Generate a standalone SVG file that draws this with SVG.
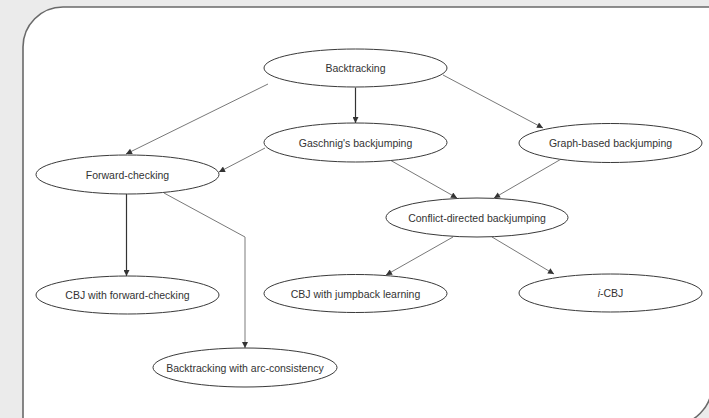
<svg xmlns="http://www.w3.org/2000/svg" width="709" height="418" viewBox="0 0 709 418">
<style>
.node ellipse{fill:#ffffff;stroke:#3a3a3a;stroke-width:1}
.node text{font-family:"Liberation Sans",Arial,sans-serif;font-size:10.5px;fill:#333333;text-anchor:middle}
.edge{fill:none;stroke:#555555;stroke-width:0.8;marker-end:url(#arr)}
.edge.v{stroke:#333333;stroke-width:1.2}
.edge.g{stroke:#9a9a9a;stroke-width:1.3}
</style>
<defs>
<marker id="arr" viewBox="0 0 10 10" markerUnits="userSpaceOnUse" markerWidth="9" markerHeight="6" refX="10" refY="5" orient="auto">
<path d="M0,0 L10,5 L0,10 z" fill="#333333"/>
</marker>
</defs>
<rect x="0" y="0" width="709" height="418" fill="#ebebeb"/>
<path d="M63 7 H712 V385 A40 40 0 0 1 672 425 H23 V47 A40 40 0 0 1 63 7 Z" fill="#ffffff" stroke="#6a6a6a" stroke-width="1.6"/>
<g id="connectors">
<path class="edge" d="M268 84 L126 154"/>
<path class="edge v" d="M355.5 87.5 L355.5 123"/>
<path class="edge" d="M443 75 L543 128"/>
<path class="edge" d="M265 148 L219 172"/>
<path class="edge" d="M390 160 L457 198"/>
<path class="edge" d="M563 158 L494 198"/>
<path class="edge v" d="M126.5 194 L126.5 276"/>
<path d="M164 193 L245 237" fill="none" stroke="#555555" stroke-width="0.8"/>
<path class="edge g" d="M245 237 L245 348"/>
<path class="edge" d="M453 237 L386 275"/>
<path class="edge" d="M492 237 L554 274"/>
</g>
<g id="n-backtracking" class="node"><ellipse cx="355.5" cy="68" rx="91.5" ry="19"/><text x="355.5" y="72">Backtracking</text></g>
<g id="n-gaschnig" class="node"><ellipse cx="355.5" cy="142.5" rx="91.5" ry="19.5"/><text x="355.5" y="146.5">Gaschnig's backjumping</text></g>
<g id="n-graph" class="node"><ellipse cx="610.5" cy="143" rx="91.5" ry="19.5"/><text x="610.5" y="147">Graph-based backjumping</text></g>
<g id="n-forward" class="node"><ellipse cx="127.5" cy="174.5" rx="91.5" ry="19.5"/><text x="127.5" y="178.5">Forward-checking</text></g>
<g id="n-conflict" class="node"><ellipse cx="477" cy="217.5" rx="91" ry="19.5"/><text x="477" y="221.5">Conflict-directed backjumping</text></g>
<g id="n-cbjfc" class="node"><ellipse cx="127.5" cy="295" rx="91.5" ry="19"/><text x="127.5" y="299">CBJ with forward-checking</text></g>
<g id="n-cbjjl" class="node"><ellipse cx="355.5" cy="293.5" rx="91.5" ry="19"/><text x="355.5" y="297.5">CBJ with jumpback learning</text></g>
<g id="n-icbj" class="node"><ellipse cx="610.5" cy="293" rx="91.5" ry="19"/><text x="610.5" y="297"><tspan font-style="italic">i</tspan>-CBJ</text></g>
<g id="n-arc" class="node"><ellipse cx="245" cy="367.5" rx="92" ry="19.5"/><text x="245" y="371.5">Backtracking with arc-consistency</text></g>
</svg>
